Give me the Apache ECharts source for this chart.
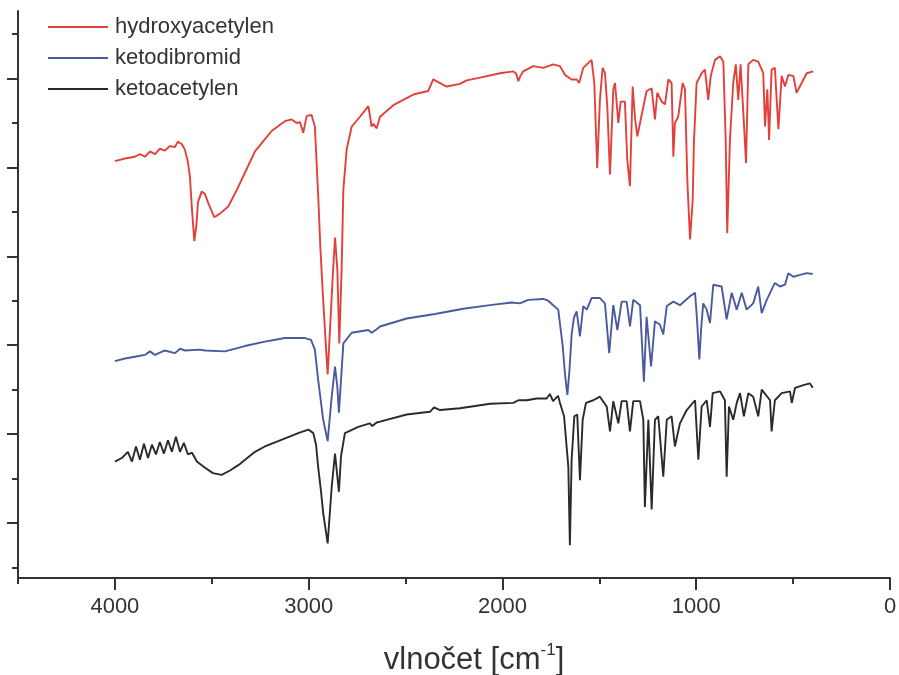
<!DOCTYPE html>
<html><head><meta charset="utf-8">
<script src="https://cdn.jsdelivr.net/npm/echarts@6/dist/echarts.min.js"></script>
<style>html,body{margin:0;padding:0;background:#fff}#c{width:899px;height:675px}</style>
</head><body><div id="c"></div><script>
// Wavenumbers (cm-1) and transmittance (arbitrary, offset)
var hydroxyWn = [4000,3948,3897,3871,3845,3819,3793,3768,3742,3716,3690,3675,3654,3639,3623,3613,3602,3590,3579,3571,3552,3535,3515,3487,3458,3415,3370,3329,3277,3236,3191,3148,3122,3088,3062,3045,3028,3010,2985,2968,2951,2939,2928,2913,2902,2890,2876,2864,2852,2842,2830,2821,2804,2778,2735,2692,2675,2666,2649,2632,2563,2529,2460,2383,2357,2331,2288,2219,2185,2116,2013,1944,1930,1918,1907,1893,1841,1789,1738,1703,1677,1643,1617,1604,1583,1540,1526,1511,1497,1483,1471,1459,1445,1428,1419,1402,1390,1368,1356,1342,1328,1316,1304,1290,1276,1256,1230,1213,1201,1178,1161,1144,1127,1118,1110,1093,1070,1058,1046,1032,1018,1012,998,972,955,938,925,903,877,860,848,840,826,809,796,783,771,754,743,731,706,680,654,645,633,624,611,594,576,559,542,525,499,482,456,430,396];
var hydroxyT = [40.7,41.0,41.2,41.5,41.2,41.8,41.5,42.1,41.9,42.4,42.3,42.9,42.6,42.0,40.6,39.0,35.2,31.7,33.6,36.1,37.3,37.0,35.8,34.4,34.8,35.6,37.5,39.4,41.8,42.9,44.1,44.8,45.2,45.4,45.0,45.1,43.9,45.8,45.9,44.6,36.9,30.7,26.2,20.6,16.7,21.7,27.7,32.1,28.5,20.2,28.5,37.5,42.0,44.6,45.7,46.9,44.6,44.9,44.4,45.7,47.0,47.4,48.2,48.6,49.9,49.6,49.1,49.4,49.8,50.1,50.6,50.8,50.6,49.7,50.3,50.8,51.4,51.2,51.6,51.4,50.4,49.9,49.9,49.5,51.2,52.1,49.5,39.9,47.6,51.2,50.6,46.9,39.2,48.8,49.5,45.0,47.4,47.4,40.9,37.9,49.1,45.6,43.5,45.0,46.5,48.6,48.9,45.4,48.4,47.4,47.1,49.9,49.5,41.2,45.0,45.7,49.5,48.8,38.6,31.9,36.4,42.8,49.5,50.6,51.0,47.6,50.3,52.1,52.5,51.9,43.1,32.6,43.1,49.5,51.6,47.6,51.6,45.0,40.5,51.6,52.1,51.9,50.6,44.6,48.8,43.1,51.0,51.2,44.3,50.3,49.1,50.4,50.3,48.4,49.5,50.6,50.8];

var dibromWn = [4000,3948,3897,3845,3819,3793,3742,3690,3664,3639,3561,3535,3432,3329,3226,3122,3045,3019,2988,2968,2951,2925,2902,2881,2864,2852,2844,2833,2821,2778,2692,2675,2649,2632,2494,2348,2202,2064,1952,1910,1867,1789,1764,1738,1712,1689,1677,1665,1654,1643,1631,1617,1600,1583,1565,1540,1497,1471,1449,1428,1407,1385,1359,1342,1325,1290,1270,1256,1233,1213,1187,1170,1152,1118,1084,1032,1006,996,984,975,964,946,929,912,869,843,817,791,765,740,706,680,662,636,594,568,542,525,499,464,430,399];
var dibromT = [18.2,18.5,18.7,18.9,19.3,18.9,19.4,19.1,19.6,19.4,19.5,19.4,19.3,19.9,20.4,20.8,20.8,20.8,20.6,19.5,16.1,11.6,9.2,14.2,17.6,15.3,12.4,16.1,20.2,21.4,21.7,21.4,21.8,22.1,23.0,23.5,24.1,24.5,24.8,24.7,25.1,25.2,25.0,24.5,24.0,19.9,16.7,14.4,17.2,21.2,23.1,23.8,21.0,24.4,24.0,25.3,25.3,24.7,19.1,24.5,21.7,24.9,24.9,22.1,25.1,24.5,15.9,23.2,17.6,22.7,22.3,21.2,24.4,24.9,24.5,25.5,25.9,22.9,18.4,21.7,24.7,24.0,22.5,26.8,26.6,22.9,25.9,24.0,25.9,24.0,24.7,26.6,23.6,25.1,27.0,26.6,26.8,28.1,27.7,27.9,28.1,28.0];

var ketoWn = [4000,3964,3933,3912,3891,3871,3850,3829,3809,3788,3768,3747,3726,3706,3685,3664,3644,3623,3602,3577,3535,3494,3449,3406,3363,3277,3226,3157,3054,3002,2976,2962,2951,2937,2925,2902,2881,2864,2850,2844,2833,2813,2744,2684,2672,2649,2632,2494,2374,2353,2322,2219,2064,1944,1918,1875,1823,1772,1755,1739,1729,1713,1703,1682,1660,1652,1643,1629,1614,1600,1586,1569,1531,1497,1462,1445,1428,1402,1385,1359,1342,1325,1290,1273,1265,1247,1230,1213,1196,1170,1152,1127,1110,1084,1049,1006,989,972,946,929,915,877,852,843,831,809,791,774,754,731,706,680,662,619,611,594,559,516,507,490,447,413,399];
var ketoT = [6.9,7.3,8.0,6.9,8.6,7.1,8.9,7.3,8.8,7.7,9.1,7.8,9.3,8.0,9.7,8.0,9.0,7.7,7.9,6.9,6.2,5.6,5.4,5.9,6.5,8.0,8.6,9.2,10.1,10.5,10.1,8.8,6.3,3.7,1.1,-2.3,4.1,7.8,4.8,3.5,7.5,10.1,10.8,11.2,10.9,11.3,11.4,12.2,12.5,13.0,12.7,12.9,13.4,13.5,13.8,13.8,14.0,14.0,14.5,13.7,13.8,14.3,13.5,12.0,6.3,-2.5,7.1,12.0,12.2,4.8,11.6,13.5,13.8,14.2,13.1,10.3,13.7,11.2,13.7,13.7,10.3,13.7,13.7,11.6,1.8,11.6,1.5,11.6,12.0,5.2,11.6,12.0,8.6,11.2,12.7,13.8,7.1,13.1,13.8,10.8,14.6,14.8,13.8,5.2,13.1,11.6,13.5,14.6,12.0,14.6,14.2,12.0,15.0,13.8,10.3,13.8,14.6,14.8,13.5,15.2,15.5,15.7,15.2];

var seriesNames = ['hydroxyacetylen','ketodibromid','ketoacetylen'];
var xMajorTicks = [0,1000,2000,3000,4000];
var xMinorTicks = [500,1500,2500,3500,4500];
var yMajorTicks = [0,10,20,30,40,50];
var yMinorTicks = [-5,5,15,25,35,45,55];

function zip(a,b){var o=[];for(var i=0;i<a.length;i++)o.push([a[i],b[i]]);return o;}

var axisColor = '#333333';
var font = '"Liberation Sans", Arial, sans-serif';
var gridBox = {left:18, right:9, top:11, bottom:97, containLabel:false, outerBoundsMode:'none'};

var chart = echarts.init(document.getElementById('c'), null, {renderer:'canvas'});
chart.setOption({
  animation:false,
  backgroundColor:'#ffffff',
  grid:[Object.assign({},gridBox), Object.assign({},gridBox)],
  legend:{
    data:seriesNames, orient:'vertical', left:43, top:11,
    icon:'rect', itemWidth:60, itemHeight:2, itemGap:9,
    textStyle:{fontSize:22, lineHeight:22, color:'#333', fontFamily:font, padding:[0,0,0,2]}
  },
  xAxis:[{
    gridIndex:0, type:'value', min:0, max:4500, inverse:true, position:'bottom',
    axisLine:{onZero:false, lineStyle:{color:axisColor, width:2}},
    axisTick:{customValues:xMajorTicks, length:12, lineStyle:{color:axisColor, width:2}},
    axisLabel:{customValues:xMajorTicks, fontSize:22, color:'#333', fontFamily:font, margin:18,
      formatter:function(v){return String(v);}},
    splitLine:{show:false},
    name:'{a|vlnočet [cm}{b|-1}{a|]}', nameLocation:'middle', nameGap:64,
    nameTextStyle:{padding:[0,0,0,40], rich:{
      a:{fontSize:31, lineHeight:36, color:'#333', fontFamily:font},
      b:{fontSize:17, lineHeight:19, color:'#333', fontFamily:font, verticalAlign:'top'}
    }}
  },{
    gridIndex:1, type:'value', min:0, max:4500, inverse:true, position:'bottom',
    axisLine:{show:false, onZero:false},
    axisTick:{customValues:xMinorTicks, length:6, lineStyle:{color:axisColor, width:2}},
    axisLabel:{show:false}, splitLine:{show:false}
  }],
  yAxis:[{
    gridIndex:0, type:'value', min:-6.2, max:57.6, position:'left',
    axisLine:{onZero:false, lineStyle:{color:axisColor, width:2}},
    axisTick:{customValues:yMajorTicks, length:11, lineStyle:{color:axisColor, width:2}},
    axisLabel:{show:false}, splitLine:{show:false}
  },{
    gridIndex:1, type:'value', min:-6.2, max:57.6, position:'left',
    axisLine:{show:false, onZero:false},
    axisTick:{customValues:yMinorTicks, length:6, lineStyle:{color:axisColor, width:2}},
    axisLabel:{show:false}, splitLine:{show:false}
  }],
  series:[
    {name:seriesNames[2], type:'line', xAxisIndex:0, yAxisIndex:0, data:zip(ketoWn,ketoT), symbol:'none', color:'#2a2a2a', lineStyle:{width:1.9, color:'#2a2a2a'}},
    {name:seriesNames[1], type:'line', xAxisIndex:0, yAxisIndex:0, data:zip(dibromWn,dibromT), symbol:'none', color:'#4a5a9e', lineStyle:{width:1.9, color:'#4a5a9e'}},
    {name:seriesNames[0], type:'line', xAxisIndex:0, yAxisIndex:0, data:zip(hydroxyWn,hydroxyT), symbol:'none', color:'#e4403b', lineStyle:{width:1.9, color:'#e4403b'}}
  ]
});
</script></body></html>
